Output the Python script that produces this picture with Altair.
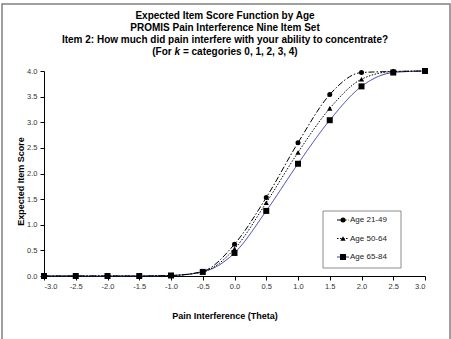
import altair as alt
import pandas as pd

# Theta grid and expected item scores for each age group
theta = [-3.0, -2.5, -2.0, -1.5, -1.0, -0.5, 0.0, 0.5, 1.0, 1.5, 2.0, 2.5, 3.0]
age_21_49 = [0.00, 0.00, 0.00, 0.00, 0.01, 0.09, 0.62, 1.53, 2.60, 3.54, 3.97, 3.99, 4.00]
age_50_64 = [0.00, 0.00, 0.00, 0.00, 0.01, 0.08, 0.53, 1.43, 2.41, 3.27, 3.84, 3.99, 4.00]
age_65_84 = [0.00, 0.00, 0.00, 0.00, 0.01, 0.08, 0.45, 1.27, 2.19, 3.04, 3.70, 3.97, 4.00]

series_names = ["Age 21-49", "Age 50-64", "Age 65-84"]
series_values = [age_21_49, age_50_64, age_65_84]

title_lines = [
    "Expected Item Score Function by Age",
    "PROMIS Pain Interference Nine Item Set",
    "Item 2: How much did pain interfere with your ability to concentrate?",
]
subtitle_parts = ["(For", "k", "= categories 0, 1, 2, 3, 4)"]

x_ticks = [-3.0, -2.5, -2.0, -1.5, -1.0, -0.5, 0.0, 0.5, 1.0, 1.5, 2.0, 2.5, 3.0]
y_ticks = [0.0, 0.5, 1.0, 1.5, 2.0, 2.5, 3.0, 3.5, 4.0]

FONT = "Liberation Sans"
W, H = 381, 205

styles = {
    "Age 21-49": dict(color="#000000", dash=[6, 2, 1.5, 2], shape="circle", size=25),
    "Age 50-64": dict(color="#000000", dash=[1.5, 1.5], shape="triangle-up", size=28),
    "Age 65-84": dict(color="#3b3bb0", dash=[1, 0], shape="square", size=36),
}

x_scale = alt.Scale(domain=[-3, 3], nice=False, zero=False)
y_scale = alt.Scale(domain=[0, 4], nice=False, zero=True)

label_expr = "datum.value < 0 ? '-' + format(-datum.value, '.1f') : format(datum.value, '.1f')"

x_axis = alt.Axis(
    values=x_ticks, labelExpr=label_expr, title="Pain Interference (Theta)",
    labelFont=FONT, labelFontSize=7.5, labelColor="#333333", labelPadding=2,
    tickSize=4, tickColor="#000000", domainColor="#000000", grid=False,
    titleFont=FONT, titleFontSize=9, titleFontWeight="bold", titleColor="#000000",
    titleX=180.5, titleY=39, titleAlign="center", titleBaseline="middle",
)
y_axis = alt.Axis(
    values=y_ticks, labelExpr=label_expr, title="Expected Item Score",
    labelFont=FONT, labelFontSize=7.5, labelColor="#333333", labelPadding=3,
    tickSize=4, tickColor="#000000", domainColor="#000000", grid=False,
    titleFont=FONT, titleFontSize=9, titleFontWeight="bold", titleColor="#000000",
    titleX=-24, titleY=110, titleAlign="center", titleBaseline="middle",
)

dummy = pd.DataFrame({"k": [0]})

# outer frame around the whole figure
frame = alt.Chart(dummy).mark_rect(
    fill="transparent", stroke="#808080", strokeWidth=1.5
).encode(
    x=alt.value(-42), x2=alt.value(406), y=alt.value(-67), y2=alt.value(275)
)

layers = [frame]

for name, vals in reversed(list(zip(series_names, series_values))):
    st = styles[name]
    df = pd.DataFrame({"theta": theta, "score": vals, "group": name})
    base = alt.Chart(df).encode(
        x=alt.X("theta:Q", scale=x_scale, axis=x_axis),
        y=alt.Y("score:Q", scale=y_scale, axis=y_axis),
    )
    layers.append(base.mark_line(
        interpolate="monotone", color=st["color"], strokeWidth=1,
        strokeDash=st["dash"]))
    layers.append(base.mark_point(
        shape=st["shape"], size=st["size"], filled=True, fill="#000000",
        opacity=1, strokeWidth=0))

# title block
for i, line in enumerate(title_lines):
    layers.append(alt.Chart(dummy).mark_text(
        text=line, font=FONT, fontSize=10, fontWeight="bold", color="#000000",
        align="center", baseline="middle"
    ).encode(x=alt.value(181), y=alt.value(-55 + 12 * i)))

sub_y = -55 + 12 * 3
layers.append(alt.Chart(dummy).mark_text(
    text=subtitle_parts[0], font=FONT, fontSize=10, fontWeight="bold",
    color="#000000", align="right", baseline="middle"
).encode(x=alt.value(127.7), y=alt.value(sub_y)))
layers.append(alt.Chart(dummy).mark_text(
    text=subtitle_parts[1], font=FONT, fontSize=10, fontWeight="bold",
    fontStyle="italic", color="#000000", align="left", baseline="middle"
).encode(x=alt.value(130.5), y=alt.value(sub_y)))
layers.append(alt.Chart(dummy).mark_text(
    text=subtitle_parts[2], font=FONT, fontSize=10, fontWeight="bold",
    color="#000000", align="left", baseline="middle"
).encode(x=alt.value(138.9), y=alt.value(sub_y)))

# legend box
layers.append(alt.Chart(dummy).mark_rect(
    fill="white", stroke="#8c8c8c", strokeWidth=1
).encode(x=alt.value(279), x2=alt.value(357), y=alt.value(140), y2=alt.value(197)))

legend_rows = [149, 167.5, 186]
for name, ry in zip(series_names, legend_rows):
    st = styles[name]
    ldf = pd.DataFrame({"group": [name]})
    layers.append(alt.Chart(ldf).mark_rule(
        color=st["color"], strokeWidth=1, strokeDash=st["dash"]
    ).encode(x=alt.value(293), x2=alt.value(305), y=alt.value(ry)))
    layers.append(alt.Chart(ldf).mark_point(
        shape=st["shape"], size=st["size"], filled=True, fill="#000000",
        opacity=1, strokeWidth=0
    ).encode(x=alt.value(299), y=alt.value(ry)))
    layers.append(alt.Chart(ldf).mark_text(
        font=FONT, fontSize=8, color="#222222", align="left", baseline="middle"
    ).encode(x=alt.value(306), y=alt.value(ry), text="group:N"))

chart = alt.layer(*layers).properties(
    width=W, height=H,
    autosize=alt.AutoSizeParams(type="none"),
    padding={"left": 44, "top": 71, "right": 26, "bottom": 63},
    background="white",
).configure_view(stroke=None)

chart.save("out.html", embed_options={"renderer": "svg", "actions": False})
